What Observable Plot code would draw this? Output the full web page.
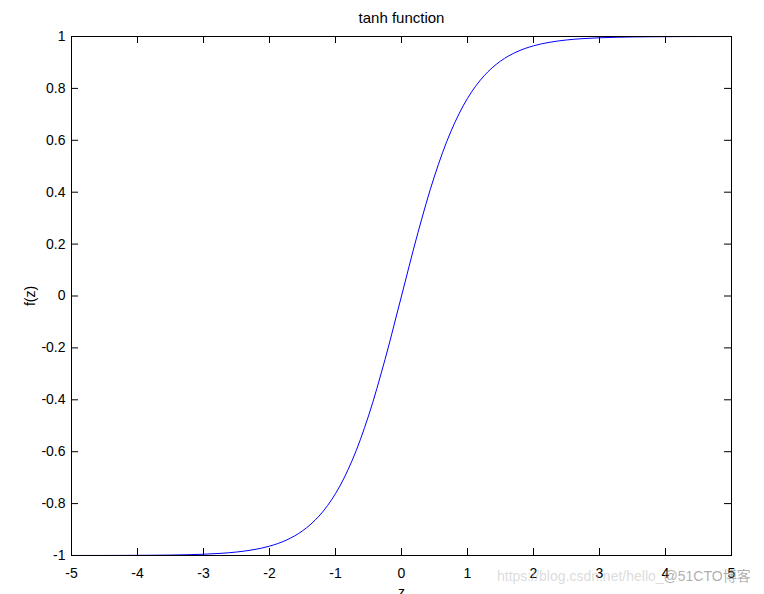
<!DOCTYPE html>
<html><head><meta charset="utf-8">
<script src="https://cdn.jsdelivr.net/npm/d3@7"></script>
<script src="https://cdn.jsdelivr.net/npm/@observablehq/plot@0.6"></script>
<style>
body{margin:0;background:#fff;}
#wrap{position:relative;width:764px;height:594px;overflow:hidden;font-family:"Liberation Sans",Arial,sans-serif;}
#wm{position:absolute;left:497px;top:565px;font-size:14px;white-space:nowrap;pointer-events:none;font-family:"Liberation Sans","Noto Sans CJK SC",sans-serif;}
#wm .a{color:rgba(190,190,190,0.55);}
#wm .b{color:rgba(140,140,140,0.7);}
</style>
</head><body><div id="wrap"></div>
<script>
const zValues = [-5,-4.75,-4.5,-4.25,-4,-3.75,-3.5,-3.25,-3,-2.75,-2.5,-2.25,-2,-1.75,-1.5,-1.25,-1,-0.75,-0.5,-0.25,0,0.25,0.5,0.75,1,1.25,1.5,1.75,2,2.25,2.5,2.75,3,3.25,3.5,3.75,4,4.25,4.5,4.75,5];
const fValues = [-0.9999,-0.9998,-0.9998,-0.9996,-0.9993,-0.9989,-0.9982,-0.9970,-0.9951,-0.9919,-0.9866,-0.9780,-0.9640,-0.9414,-0.9051,-0.8483,-0.7616,-0.6351,-0.4621,-0.2449,0,0.2449,0.4621,0.6351,0.7616,0.8483,0.9051,0.9414,0.9640,0.9780,0.9866,0.9919,0.9951,0.9970,0.9982,0.9989,0.9993,0.9996,0.9998,0.9998,0.9999];
const xTicks = [-5,-4,-3,-2,-1,0,1,2,3,4,5];
const yTicks = [-1,-0.8,-0.6,-0.4,-0.2,0,0.2,0.4,0.6,0.8,1];
const titleText = "tanh function";
const xLabel = "z";
const yLabel = "f(z)";

const data = zValues.map((z, i) => ({z, f: fValues[i]}));
const fmt = d => String(Math.round(d * 10) / 10);

const plot = Plot.plot({
  width: 764, height: 594,
  marginLeft: 71, marginRight: 33, marginTop: 36, marginBottom: 39,
  style: {fontFamily: '"Liberation Sans", Arial, sans-serif', fontSize: "14px", color: "#000", background: "transparent"},
  x: {domain: [-5, 5]},
  y: {domain: [-1, 1]},
  marks: [
    Plot.tickX(xTicks, {x: d => d, insetTop: 512, stroke: "#000"}),
    Plot.tickX(xTicks, {x: d => d, insetBottom: 512, stroke: "#000"}),
    Plot.tickY(yTicks, {y: d => d, insetLeft: 653, stroke: "#000"}),
    Plot.tickY(yTicks, {y: d => d, insetRight: 653, stroke: "#000"}),
    Plot.axisX({ticks: xTicks, tickSize: 0, tickPadding: 13, tickFormat: fmt, label: null, fontSize: 14}),
    Plot.axisY({ticks: yTicks, tickSize: 0, tickPadding: 6, tickFormat: fmt, label: null, fontSize: 14}),
    Plot.line(data, {x: "z", y: "f", stroke: "#0000ff", strokeWidth: 1, curve: "catmull-rom"}),
    Plot.frame({stroke: "#000", strokeWidth: 1}),
    Plot.text([titleText], {text: d => d, frameAnchor: "top", dy: -18, lineAnchor: "middle", fontSize: 15}),
    Plot.text([yLabel], {text: d => d, frameAnchor: "left", dx: -41, rotate: -90, textAnchor: "middle", lineAnchor: "middle", fontSize: 14}),
    Plot.text([xLabel], {text: d => d, frameAnchor: "bottom", dy: 32, lineAnchor: "top", fontSize: 14})
  ]
});
const wrap = document.getElementById("wrap");
wrap.appendChild(plot);
const wm = document.createElement("div");
wm.id = "wm";
wm.innerHTML = '<span class="a">https://blog.csdn.net/hello_</span><span class="b">@51CTO博客</span>';
wrap.appendChild(wm);
</script>
</body></html>
